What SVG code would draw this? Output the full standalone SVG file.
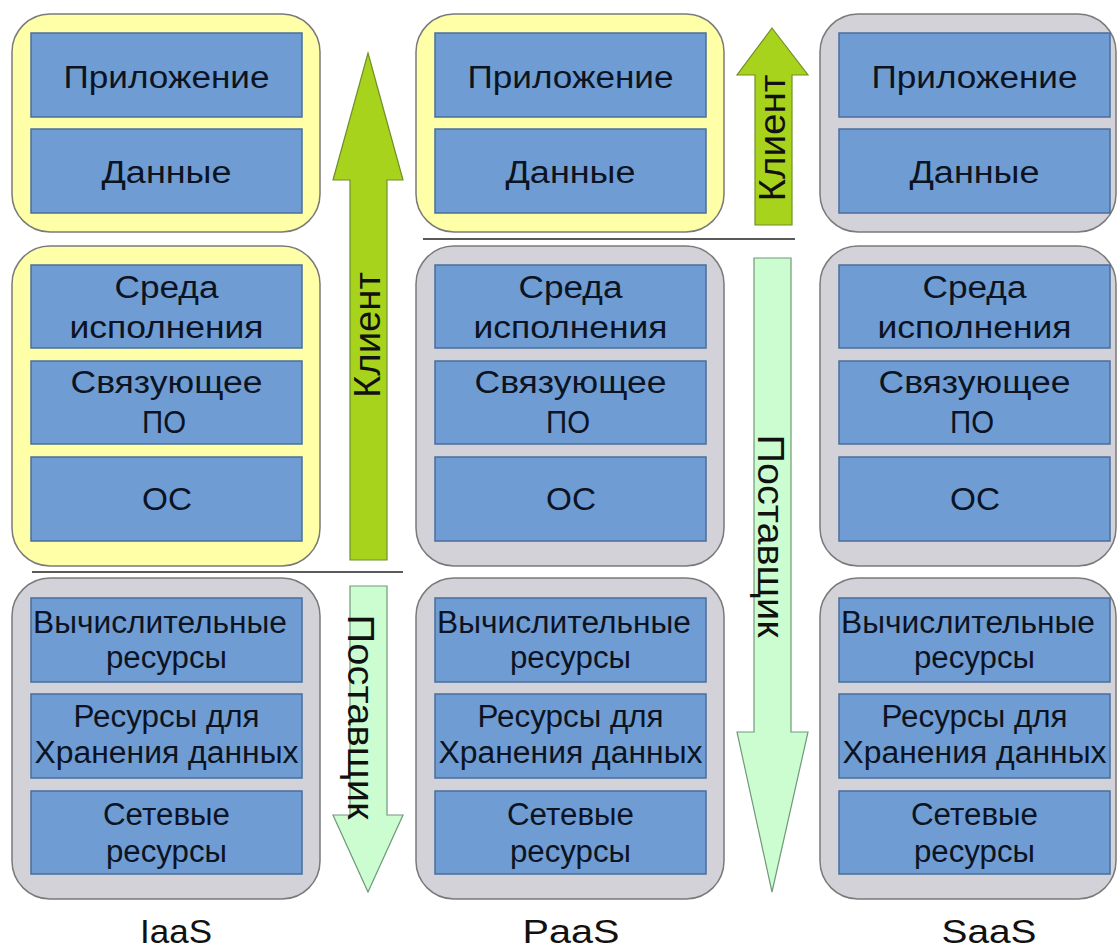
<svg xmlns="http://www.w3.org/2000/svg" width="1119" height="950" viewBox="0 0 1119 950">
<style>
.yel{fill:#ffffa8;stroke:#7a7a7a;stroke-width:1.5}
.gry{fill:#d2d2d8;stroke:#7a7a7a;stroke-width:1.5}
.box{fill:#6f9cd2;stroke:#4a6e9c;stroke-width:1.5}
.t{font-family:"Liberation Sans",Arial,sans-serif;font-size:31px;fill:#0c1322;text-anchor:middle}
.lbl{font-family:"Liberation Sans",Arial,sans-serif;font-size:34px;fill:#111;text-anchor:middle}
.vt{font-family:"Liberation Sans",Arial,sans-serif;font-size:37px;fill:#111;text-anchor:middle}
.up{fill:#a8d31c;stroke:#6f8f2a;stroke-width:1.2}
.down{fill:#ccfdd0;stroke:#6f9a7a;stroke-width:1.2}
.sep{stroke:#222;stroke-width:1.6}
</style>

<g id="iaas">
  <g id="iaas-top"><rect class="yel" x="12" y="14" width="308" height="218" rx="38"/>
    <g id="iaas-app"><rect class="box" x="31" y="33" width="271" height="84"/><text class="t" x="166.5" y="88" textLength="206" lengthAdjust="spacingAndGlyphs">Приложение</text></g>
    <g id="iaas-data"><rect class="box" x="31" y="129" width="271" height="84"/><text class="t" x="166.5" y="183" textLength="130" lengthAdjust="spacingAndGlyphs">Данные</text></g>
  </g>
  <g id="iaas-mid"><rect class="yel" x="12" y="246" width="308" height="320" rx="38"/>
    <g id="iaas-runtime"><rect class="box" x="31" y="265" width="271" height="83"/><text class="t" x="166.5" y="298" textLength="104" lengthAdjust="spacingAndGlyphs">Среда</text><text class="t" x="166.5" y="338" textLength="194" lengthAdjust="spacingAndGlyphs">исполнения</text></g>
    <g id="iaas-mw"><rect class="box" x="31" y="361" width="271" height="83"/><text class="t" x="166.5" y="393" textLength="192" lengthAdjust="spacingAndGlyphs">Связующее</text><text class="t" x="164" y="433" textLength="44" lengthAdjust="spacingAndGlyphs">ПО</text></g>
    <g id="iaas-os"><rect class="box" x="31" y="457" width="271" height="84"/><text class="t" x="167" y="510" textLength="50" lengthAdjust="spacingAndGlyphs">ОС</text></g>
  </g>
  <g id="iaas-bot"><rect class="gry" x="12" y="578" width="308" height="321" rx="38"/>
    <g id="iaas-comp"><rect class="box" x="31" y="598" width="271" height="84"/><text class="t" x="160" y="633" textLength="254" lengthAdjust="spacingAndGlyphs">Вычислительные</text><text class="t" x="166.5" y="668" textLength="121" lengthAdjust="spacingAndGlyphs">ресурсы</text></g>
    <g id="iaas-stor"><rect class="box" x="31" y="694" width="271" height="84"/><text class="t" x="166.5" y="727" textLength="186" lengthAdjust="spacingAndGlyphs">Ресурсы для</text><text class="t" x="166.5" y="763" textLength="264" lengthAdjust="spacingAndGlyphs">Хранения данных</text></g>
    <g id="iaas-net"><rect class="box" x="31" y="791" width="271" height="83"/><text class="t" x="166.5" y="825" textLength="127" lengthAdjust="spacingAndGlyphs">Сетевые</text><text class="t" x="166.5" y="862" textLength="121" lengthAdjust="spacingAndGlyphs">ресурсы</text></g>
  </g>
  <text class="lbl" x="176" y="943" textLength="72" lengthAdjust="spacingAndGlyphs">IaaS</text>
</g>

<g id="paas">
  <g id="paas-top"><rect class="yel" x="416" y="14" width="308" height="218" rx="38"/>
    <g id="paas-app"><rect class="box" x="435" y="33" width="271" height="84"/><text class="t" x="570.5" y="88" textLength="206" lengthAdjust="spacingAndGlyphs">Приложение</text></g>
    <g id="paas-data"><rect class="box" x="435" y="129" width="271" height="84"/><text class="t" x="570.5" y="183" textLength="130" lengthAdjust="spacingAndGlyphs">Данные</text></g>
  </g>
  <g id="paas-mid"><rect class="gry" x="416" y="246" width="308" height="320" rx="38"/>
    <g id="paas-runtime"><rect class="box" x="435" y="265" width="271" height="83"/><text class="t" x="570.5" y="298" textLength="104" lengthAdjust="spacingAndGlyphs">Среда</text><text class="t" x="570.5" y="338" textLength="194" lengthAdjust="spacingAndGlyphs">исполнения</text></g>
    <g id="paas-mw"><rect class="box" x="435" y="361" width="271" height="83"/><text class="t" x="570.5" y="393" textLength="192" lengthAdjust="spacingAndGlyphs">Связующее</text><text class="t" x="568" y="433" textLength="44" lengthAdjust="spacingAndGlyphs">ПО</text></g>
    <g id="paas-os"><rect class="box" x="435" y="457" width="271" height="84"/><text class="t" x="571" y="510" textLength="50" lengthAdjust="spacingAndGlyphs">ОС</text></g>
  </g>
  <g id="paas-bot"><rect class="gry" x="416" y="578" width="308" height="321" rx="38"/>
    <g id="paas-comp"><rect class="box" x="435" y="598" width="271" height="84"/><text class="t" x="564" y="633" textLength="254" lengthAdjust="spacingAndGlyphs">Вычислительные</text><text class="t" x="570.5" y="668" textLength="121" lengthAdjust="spacingAndGlyphs">ресурсы</text></g>
    <g id="paas-stor"><rect class="box" x="435" y="694" width="271" height="84"/><text class="t" x="570.5" y="727" textLength="186" lengthAdjust="spacingAndGlyphs">Ресурсы для</text><text class="t" x="570.5" y="763" textLength="264" lengthAdjust="spacingAndGlyphs">Хранения данных</text></g>
    <g id="paas-net"><rect class="box" x="435" y="791" width="271" height="83"/><text class="t" x="570.5" y="825" textLength="127" lengthAdjust="spacingAndGlyphs">Сетевые</text><text class="t" x="570.5" y="862" textLength="121" lengthAdjust="spacingAndGlyphs">ресурсы</text></g>
  </g>
  <text class="lbl" x="571" y="943" textLength="97" lengthAdjust="spacingAndGlyphs">PaaS</text>
</g>

<g id="saas">
  <g id="saas-top"><rect class="gry" x="820" y="14" width="296" height="218" rx="38"/>
    <g id="saas-app"><rect class="box" x="839" y="33" width="271" height="84"/><text class="t" x="974.5" y="88" textLength="206" lengthAdjust="spacingAndGlyphs">Приложение</text></g>
    <g id="saas-data"><rect class="box" x="839" y="129" width="271" height="84"/><text class="t" x="974.5" y="183" textLength="130" lengthAdjust="spacingAndGlyphs">Данные</text></g>
  </g>
  <g id="saas-mid"><rect class="gry" x="820" y="246" width="296" height="320" rx="38"/>
    <g id="saas-runtime"><rect class="box" x="839" y="265" width="271" height="83"/><text class="t" x="974.5" y="298" textLength="104" lengthAdjust="spacingAndGlyphs">Среда</text><text class="t" x="974.5" y="338" textLength="194" lengthAdjust="spacingAndGlyphs">исполнения</text></g>
    <g id="saas-mw"><rect class="box" x="839" y="361" width="271" height="83"/><text class="t" x="974.5" y="393" textLength="192" lengthAdjust="spacingAndGlyphs">Связующее</text><text class="t" x="972" y="433" textLength="44" lengthAdjust="spacingAndGlyphs">ПО</text></g>
    <g id="saas-os"><rect class="box" x="839" y="457" width="271" height="84"/><text class="t" x="975" y="510" textLength="50" lengthAdjust="spacingAndGlyphs">ОС</text></g>
  </g>
  <g id="saas-bot"><rect class="gry" x="820" y="578" width="296" height="321" rx="38"/>
    <g id="saas-comp"><rect class="box" x="839" y="598" width="271" height="84"/><text class="t" x="968" y="633" textLength="254" lengthAdjust="spacingAndGlyphs">Вычислительные</text><text class="t" x="974.5" y="668" textLength="121" lengthAdjust="spacingAndGlyphs">ресурсы</text></g>
    <g id="saas-stor"><rect class="box" x="839" y="694" width="271" height="84"/><text class="t" x="974.5" y="727" textLength="186" lengthAdjust="spacingAndGlyphs">Ресурсы для</text><text class="t" x="974.5" y="763" textLength="264" lengthAdjust="spacingAndGlyphs">Хранения данных</text></g>
    <g id="saas-net"><rect class="box" x="839" y="791" width="271" height="83"/><text class="t" x="974.5" y="825" textLength="127" lengthAdjust="spacingAndGlyphs">Сетевые</text><text class="t" x="974.5" y="862" textLength="121" lengthAdjust="spacingAndGlyphs">ресурсы</text></g>
  </g>
  <text class="lbl" x="989" y="943" textLength="95" lengthAdjust="spacingAndGlyphs">SaaS</text>
</g>

<g id="connectors">
  <line class="sep" x1="32" y1="572" x2="403" y2="572"/>
  <line class="sep" x1="423" y1="239" x2="795" y2="239"/>
  <g id="iaas-client"><polygon class="up" points="368,53 403,180 387,180 387,560 350,560 350,180 333,180"/>
    <text class="vt" transform="translate(380,335) rotate(-90)" textLength="126" lengthAdjust="spacingAndGlyphs">Клиент</text></g>
  <g id="iaas-provider"><polygon class="down" points="350,586 387,586 387,815 403,815 368,892 333,815 350,815"/>
    <text class="vt" transform="translate(348,717) rotate(90)" textLength="205" lengthAdjust="spacingAndGlyphs">Поставщик</text></g>
  <g id="paas-client"><polygon class="up" points="772,28 808,75 792,75 792,225 755,225 755,75 737,75"/>
    <text class="vt" transform="translate(785,138) rotate(-90)" textLength="127" lengthAdjust="spacingAndGlyphs">Клиент</text></g>
  <g id="paas-provider"><polygon class="down" points="754,258 791,258 791,732 808,732 772,892 737,732 754,732"/>
    <text class="vt" transform="translate(758,536) rotate(90)" textLength="203" lengthAdjust="spacingAndGlyphs">Поставщик</text></g>
</g>
</svg>
